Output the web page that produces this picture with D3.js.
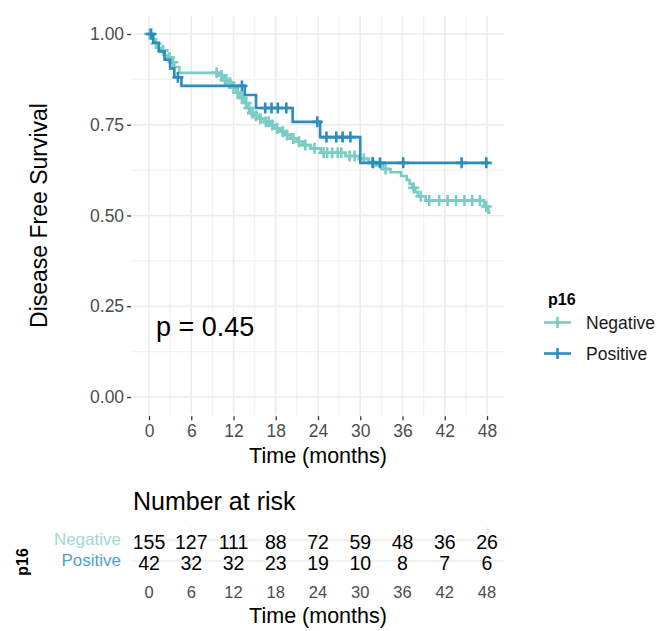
<!DOCTYPE html>
<html><head><meta charset="utf-8">
<script src="https://cdn.jsdelivr.net/npm/d3@7"></script>
<style>
html,body{margin:0;padding:0;background:#fff;}
svg{display:block;font-family:"Liberation Sans",Arial,sans-serif;}
</style></head>
<body>
<svg id="chart" width="657" height="631"></svg>
<script>
// ---------------- DATA ----------------
const groups = ["Negative", "Positive"];
const groupColors = ["#7bccc4", "#2b8cbe"];
const labelColors = ["#9fd9d3", "#4f9fd0"];
const xTicks = [0, 6, 12, 18, 24, 30, 36, 42, 48];
const yTicks = [0, 0.25, 0.5, 0.75, 1];
const yTickLabels = ["0.00", "0.25", "0.50", "0.75", "1.00"];

// Kaplan-Meier steps: [time (months), survival after the drop]
const negSteps = [
  [0, 1], [0.3, 0.987], [0.8, 0.974], [1.3, 0.961], [1.8, 0.955], [2.2, 0.942],
  [2.7, 0.935], [3.2, 0.922], [3.6, 0.909], [4.3, 0.893], [10.0, 0.886],
  [10.5, 0.873], [11.2, 0.866], [11.8, 0.852], [12.4, 0.838], [12.9, 0.824],
  [13.5, 0.81], [14.0, 0.796], [14.5, 0.782], [14.9, 0.775], [15.6, 0.767],
  [16.4, 0.758], [17.2, 0.749], [17.8, 0.74], [18.6, 0.731], [19.2, 0.722],
  [20.1, 0.712], [21.0, 0.703], [21.8, 0.694], [23.0, 0.685], [24.4, 0.673],
  [27.9, 0.664], [29.8, 0.656], [31.2, 0.647], [32.2, 0.638], [33.2, 0.628],
  [34.3, 0.619], [35.8, 0.609], [36.6, 0.598], [37.0, 0.587], [37.4, 0.576],
  [37.8, 0.565], [38.2, 0.553], [39.3, 0.541], [47.6, 0.525], [48.2, 0.508]
];
const negEnd = 48.5;
const negCensor = [0.1, 1.0, 2.0, 2.9, 3.4, 9.6, 10.3, 10.8, 11.0, 11.5, 12.0, 12.6,
  13.2, 13.8, 14.2, 14.7, 15.2, 15.8, 16.6, 17.0, 17.5, 18.2, 19.0, 19.6, 20.5,
  21.3, 22.2, 23.5, 24.8, 25.3, 26.0, 26.8, 27.3, 28.5, 29.2, 30.5, 31.7, 33.6,
  37.6, 38.6, 39.8, 41.2, 42.4, 43.6, 44.8, 45.9, 47.0, 47.9];

const posSteps = [
  [0, 1], [0.6, 0.976], [1.4, 0.952], [2.2, 0.929], [3.0, 0.905], [3.6, 0.881],
  [4.6, 0.857], [13.6, 0.832], [15.2, 0.796], [20.4, 0.758], [24.3, 0.716],
  [30.0, 0.645]
];
const posEnd = 48.2;
const posCensor = [0.3, 4.1, 13.2, 16.5, 17.4, 18.3, 19.5, 23.9, 25.2, 26.6, 27.5,
  28.6, 31.8, 32.8, 36.1, 44.4, 47.9];

const riskNeg = [155, 127, 111, 88, 72, 59, 48, 36, 26];
const riskPos = [42, 32, 32, 23, 19, 10, 8, 7, 6];
const pValueText = "p = 0.45";

// ---------------- DRAW ----------------
const FONT = "Liberation Sans, Arial, sans-serif";
const svg = d3.select("#chart");
const x = d3.scaleLinear().domain([0, 48]).range([149, 487]);
const y = d3.scaleLinear().domain([0, 1]).range([397, 34]);
const xLo = x(-2.4), xHi = x(50.4), yTop = y(1.05), yBot = y(-0.05);

// grid
const g = svg.append("g");
const minorX = d3.range(3, 48, 6);
const minorY = [0.125, 0.375, 0.625, 0.875];
g.selectAll(".mx").data(minorX).join("line")
  .attr("x1", d => x(d)).attr("x2", d => x(d)).attr("y1", yTop).attr("y2", yBot)
  .attr("stroke", "#f2f2f2").attr("stroke-width", 1.2);
g.selectAll(".my").data(minorY).join("line")
  .attr("y1", d => y(d)).attr("y2", d => y(d)).attr("x1", xLo).attr("x2", xHi)
  .attr("stroke", "#f2f2f2").attr("stroke-width", 1.2);
g.selectAll(".gx").data(xTicks).join("line")
  .attr("x1", d => x(d)).attr("x2", d => x(d)).attr("y1", yTop).attr("y2", yBot)
  .attr("stroke", "#ebebeb").attr("stroke-width", 1.5);
g.selectAll(".gy").data(yTicks).join("line")
  .attr("y1", d => y(d)).attr("y2", d => y(d)).attr("x1", xLo).attr("x2", xHi)
  .attr("stroke", "#ebebeb").attr("stroke-width", 1.5);

// axes
const yAxis = d3.axisLeft(y).tickValues(yTicks).tickFormat((d, i) => yTickLabels[i])
  .tickSize(4).tickPadding(3);
const ya = svg.append("g").attr("transform", `translate(${xLo - 1},0)`).call(yAxis);
ya.select(".domain").remove();
ya.selectAll("line").attr("stroke", "#333").attr("stroke-width", 1.3);
ya.selectAll("text").attr("fill", "#4d4d4d").attr("font-size", 17.5)
  .attr("font-family", FONT);

const xAxis = d3.axisBottom(x).tickValues(xTicks).tickSize(4).tickPadding(3);
const xa = svg.append("g").attr("transform", `translate(0,${yBot + 1})`).call(xAxis);
xa.select(".domain").remove();
xa.selectAll("line").attr("stroke", "#333").attr("stroke-width", 1.3);
xa.selectAll("text").attr("fill", "#4d4d4d").attr("font-size", 17.5)
  .attr("font-family", FONT).attr("dy", "0.78em");

svg.append("text").attr("x", (x(0) + x(48)) / 2).attr("y", 463)
  .attr("text-anchor", "middle").attr("font-size", 21.5).attr("fill", "#000")
  .text("Time (months)");
svg.append("text").attr("transform", `translate(47,${(yTop + yBot) / 2}) rotate(-90)`)
  .attr("text-anchor", "middle").attr("font-size", 23).attr("fill", "#000")
  .text("Disease Free Survival");

// curves
function stepPath(steps, end) {
  const pts = [];
  steps.forEach((s, i) => {
    if (i > 0) pts.push([s[0], steps[i - 1][1]]);
    pts.push(s);
  });
  pts.push([end, steps[steps.length - 1][1]]);
  return d3.line().x(d => x(d[0])).y(d => y(d[1]))(pts);
}
function survAt(steps, t) {
  let v = 1;
  for (const s of steps) { if (s[0] <= t) v = s[1]; }
  return v;
}
const series = [
  {steps: negSteps, end: negEnd, cens: negCensor},
  {steps: posSteps, end: posEnd, cens: posCensor}
];
series.forEach((s, i) => {
  const col = groupColors[i];
  svg.append("path").attr("d", stepPath(s.steps, s.end))
    .attr("fill", "none").attr("stroke", col).attr("stroke-width", 2.6);
  const cg = svg.append("g");
  s.cens.forEach(t => {
    const cx = x(t), cy = y(survAt(s.steps, t));
    cg.append("path").attr("d", `M${cx - 5.5},${cy}H${cx + 5.5}M${cx},${cy - 5.5}V${cy + 5.5}`)
      .attr("stroke", col).attr("stroke-width", 2.6);
  });
});

svg.append("text").attr("x", 156).attr("y", 336).attr("font-size", 27).attr("fill", "#000")
  .text(pValueText);

// legend
svg.append("text").attr("x", 548).attr("y", 305).attr("font-size", 16)
  .attr("font-weight", "bold").attr("fill", "#000").text("p16");
groups.forEach((gname, i) => {
  const ly = 322.5 + i * 31;
  svg.append("line").attr("x1", 544).attr("x2", 571).attr("y1", ly).attr("y2", ly)
    .attr("stroke", groupColors[i]).attr("stroke-width", 2.6);
  svg.append("path").attr("d", `M557.5,${ly - 5.5}V${ly + 5.5}`)
    .attr("stroke", groupColors[i]).attr("stroke-width", 2.6);
  svg.append("text").attr("x", 586).attr("y", ly + 6).attr("font-size", 17.5)
    .attr("fill", "#1a1a1a").text(gname);
});

// risk table
svg.append("text").attr("x", 133).attr("y", 510).attr("font-size", 25).attr("fill", "#000")
  .text("Number at risk");
const rowY = [540, 561];
const rt = svg.append("g");
rt.selectAll(".rgx").data(xTicks).join("line")
  .attr("x1", d => x(d)).attr("x2", d => x(d)).attr("y1", 527).attr("y2", 574)
  .attr("stroke", "#f0f0f0").attr("stroke-width", 1.3);
rt.selectAll(".rgy").data(rowY).join("line")
  .attr("x1", xLo).attr("x2", xHi).attr("y1", d => d).attr("y2", d => d)
  .attr("stroke", "#ececec").attr("stroke-width", 1.3);
[riskNeg, riskPos].forEach((row, r) => {
  rt.selectAll(".rv" + r).data(row).join("text")
    .attr("x", (d, i) => x(xTicks[i])).attr("y", rowY[r] + 9)
    .attr("text-anchor", "middle").attr("font-size", 19.5).attr("fill", "#000")
    .text(d => d);
  svg.append("text").attr("x", 121).attr("y", rowY[r] + 5).attr("text-anchor", "end")
    .attr("font-size", 17).attr("fill", labelColors[r]).text(groups[r]);
});
svg.append("text").attr("transform", `translate(28,562) rotate(-90)`)
  .attr("text-anchor", "middle").attr("font-size", 16).attr("font-weight", "bold")
  .attr("fill", "#000").text("p16");
svg.selectAll(".rtx").data(xTicks).join("text")
  .attr("x", d => x(d)).attr("y", 598).attr("text-anchor", "middle")
  .attr("font-size", 16.5).attr("fill", "#4d4d4d").text(d => d);
svg.append("text").attr("x", (x(0) + x(48)) / 2).attr("y", 623)
  .attr("text-anchor", "middle").attr("font-size", 21.5).attr("fill", "#000")
  .text("Time (months)");
</script>
</body></html>
